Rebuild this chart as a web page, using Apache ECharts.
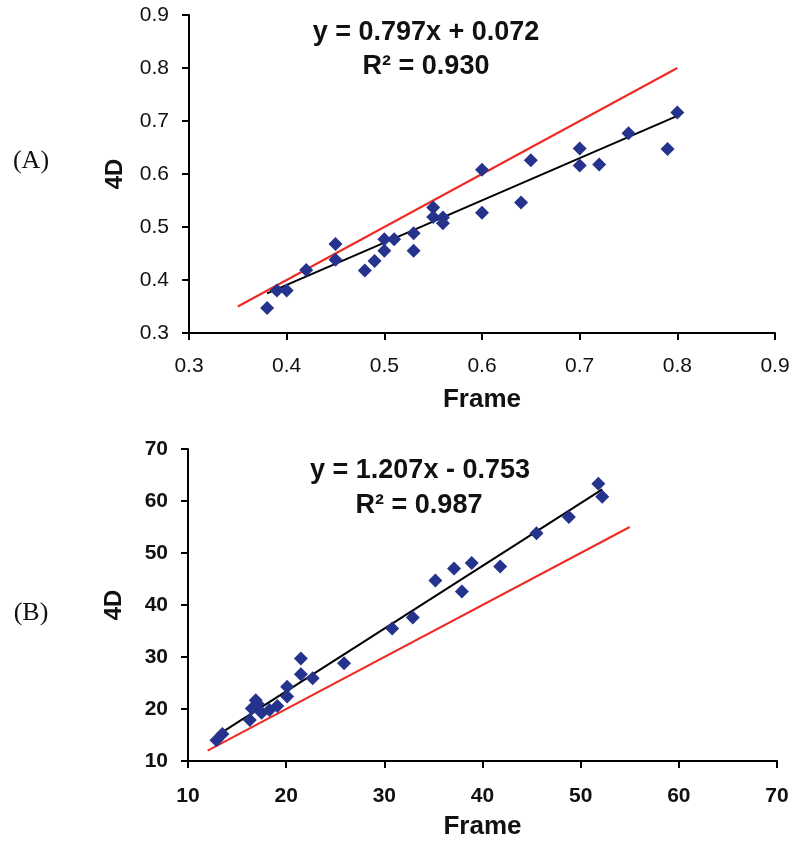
<!DOCTYPE html>
<html>
<head>
<meta charset="utf-8">
<script src="https://cdn.jsdelivr.net/npm/echarts@6/dist/echarts.min.js"></script>
<style>html,body{margin:0;padding:0;background:#fff}#c{width:800px;height:847px}</style>
</head>
<body>
<div id="c"></div>
<script>
// ---- Panel A data ----
var frameA = [0.38,0.39,0.40,0.42,0.45,0.45,0.48,0.49,0.50,0.50,0.51,0.53,0.53,0.55,0.55,0.56,0.56,0.60,0.60,0.64,0.65,0.70,0.70,0.72,0.75,0.79,0.80];
var fourDA = [0.347,0.380,0.380,0.419,0.468,0.438,0.418,0.436,0.477,0.455,0.477,0.488,0.455,0.537,0.519,0.518,0.507,0.608,0.527,0.546,0.626,0.648,0.616,0.618,0.677,0.647,0.716];
var fitA = {slope: 0.797, intercept: 0.072, from: 0.38, to: 0.80};
var identityA = [0.35, 0.80];
var ticksA = [0.3,0.4,0.5,0.6,0.7,0.8,0.9];
var eqA = ['y = 0.797x + 0.072', 'R² = 0.930'];

// ---- Panel B data ----
var frameB = [12.9,13.5,16.3,16.5,16.9,17.1,17.5,18.3,19.1,20.1,20.1,21.5,21.5,22.7,25.9,30.8,32.9,35.2,37.1,37.9,38.9,41.8,45.5,48.8,51.8,52.2];
var fourDB = [14.0,15.2,17.9,20.1,21.7,21.0,19.3,19.8,20.6,22.4,24.3,26.7,29.7,25.9,28.8,35.5,37.6,44.7,47.0,42.6,48.1,47.4,53.8,56.9,63.3,60.8];
var fitB = {slope: 1.207, intercept: -0.753, from: 12.9, to: 52.2};
var identityB = [12, 55];
var ticksB = [10,20,30,40,50,60,70];
var eqB = ['y = 1.207x - 0.753', 'R² = 0.987'];

var xName = 'Frame', yName = '4D';
var panelLabels = ['(A)', '(B)'];

function zip(a, b) { return a.map(function (v, i) { return [v, b[i]]; }); }
function fitLine(f) { return [[f.from, f.slope * f.from + f.intercept], [f.to, f.slope * f.to + f.intercept]]; }
function idLine(r) { return [[r[0], r[0]], [r[1], r[1]]]; }

var FONT = '"Liberation Sans", Arial, sans-serif';
var MARK = '#26338c';

function axis(kind, idx, ticks, bold, labelMargin, name, nameGap, dec) {
  return {
    type: 'value', gridIndex: idx,
    min: ticks[0], max: ticks[ticks.length - 1], interval: ticks[1] - ticks[0],
    splitLine: {show: false},
    axisLine: {show: true, onZero: false, lineStyle: {color: '#000', width: 2}},
    axisTick: {show: true, inside: false, length: 7, lineStyle: {color: '#000', width: 2}},
    axisLabel: {
      color: '#111', fontFamily: FONT, fontSize: 21, fontWeight: bold ? 'bold' : 'normal',
      margin: labelMargin,
      formatter: function (v) { return dec ? v.toFixed(1) : String(Math.round(v)); }
    },
    name: name, nameLocation: 'middle', nameGap: nameGap,
    nameTextStyle: {color: '#111', fontFamily: FONT, fontWeight: 'bold', fontSize: kind === 'x' ? 26 : 24}
  };
}

var chart = echarts.init(document.getElementById('c'), null, {renderer: 'canvas'});
var EQFONT = 'bold 27px ' + FONT;
chart.setOption({
  animation: false,
  backgroundColor: '#fff',
  grid: [
    {left: 189, top: 15, width: 586, height: 318},
    {left: 188, top: 449, width: 589, height: 312}
  ],
  xAxis: [
    axis('x', 0, ticksA, false, 23, xName, 54, true),
    axis('x', 1, ticksB, true, 25, xName, 53, false)
  ],
  yAxis: [
    axis('y', 0, ticksA, false, 20, yName, 62, true),
    axis('y', 1, ticksB, true, 20, yName, 62, false)
  ],
  series: [
    {type: 'line', xAxisIndex: 0, yAxisIndex: 0, data: idLine(identityA), symbol: 'none', lineStyle: {color: '#ee2a24', width: 2}, z: 2},
    {type: 'line', xAxisIndex: 0, yAxisIndex: 0, data: fitLine(fitA), symbol: 'none', lineStyle: {color: '#000', width: 2}, z: 3},
    {type: 'scatter', xAxisIndex: 0, yAxisIndex: 0, data: zip(frameA, fourDA), symbol: 'diamond', symbolSize: 14, itemStyle: {color: MARK, opacity: 1}, z: 4},
    {type: 'line', xAxisIndex: 1, yAxisIndex: 1, data: idLine(identityB), symbol: 'none', lineStyle: {color: '#ee2a24', width: 2}, z: 2},
    {type: 'line', xAxisIndex: 1, yAxisIndex: 1, data: fitLine(fitB), symbol: 'none', lineStyle: {color: '#000', width: 2}, z: 3},
    {type: 'scatter', xAxisIndex: 1, yAxisIndex: 1, data: zip(frameB, fourDB), symbol: 'diamond', symbolSize: 14, itemStyle: {color: MARK, opacity: 1}, z: 4}
  ],
  graphic: [
    {type: 'text', x: 426, y: 33, style: {text: eqA[0], font: EQFONT, fill: '#111', align: 'center', verticalAlign: 'middle'}},
    {type: 'text', x: 426, y: 67, style: {text: eqA[1], font: EQFONT, fill: '#111', align: 'center', verticalAlign: 'middle'}},
    {type: 'text', x: 420, y: 471, style: {text: eqB[0], font: EQFONT, fill: '#111', align: 'center', verticalAlign: 'middle'}},
    {type: 'text', x: 419, y: 506, style: {text: eqB[1], font: EQFONT, fill: '#111', align: 'center', verticalAlign: 'middle'}},
    {type: 'text', x: 31, y: 161, style: {text: panelLabels[0], font: '26px "Liberation Serif", "Times New Roman", serif', fill: '#111', align: 'center', verticalAlign: 'middle'}},
    {type: 'text', x: 31, y: 613, style: {text: panelLabels[1], font: '26px "Liberation Serif", "Times New Roman", serif', fill: '#111', align: 'center', verticalAlign: 'middle'}}
  ]
});
</script>
</body>
</html>
